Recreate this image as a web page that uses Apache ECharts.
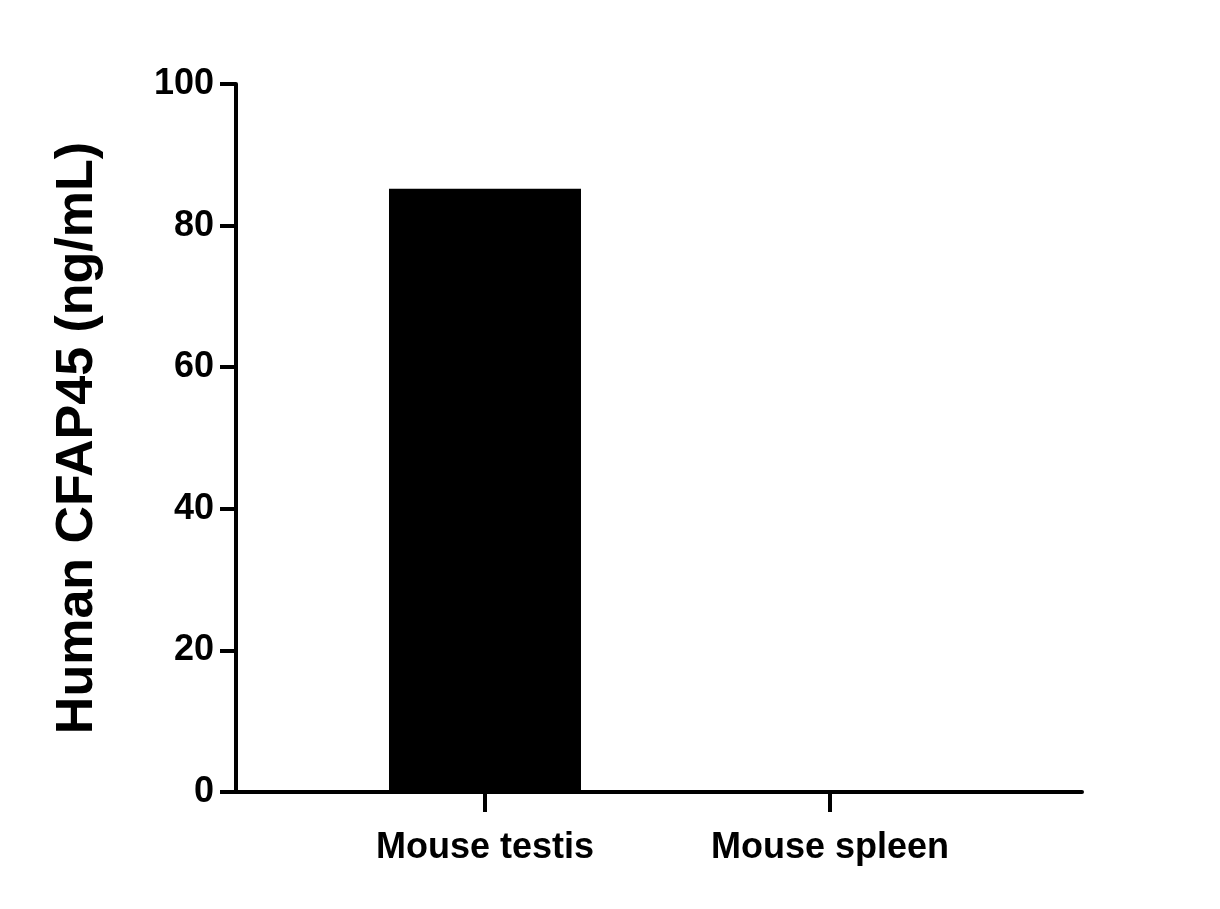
<!DOCTYPE html><html><head><meta charset="utf-8"><script src="https://cdn.jsdelivr.net/npm/echarts@6/dist/echarts.min.js"></script></head><body style="margin:0"><div id="c" style="width:1220px;height:909px"></div><script>
const categories=['Mouse testis','Mouse spleen'];
const values=[85.2,0];
const yTicks=[0,20,40,60,80,100];
const c=echarts.init(document.getElementById('c'));
const F="'Liberation Sans', Arial, sans-serif";
c.setOption({backgroundColor:'#fff',animation:false,
grid:{left:236,right:138,top:84,bottom:117},
xAxis:{type:'value',min:-0.7217,max:1.7304,splitLine:{show:false},
 axisLine:{onZero:false,lineStyle:{color:'#000',width:4}},
 axisTick:{customValues:[0,1],length:20,lineStyle:{color:'#000',width:4}},
 axisLabel:{customValues:[0,1],formatter:v=>categories[Math.round(v)],color:'#000',fontFamily:F,fontWeight:'bold',fontSize:36,margin:38}},
yAxis:{type:'value',min:0,max:100,interval:20,splitLine:{show:false},
 name:'Human CFAP45 (ng/mL)',nameLocation:'middle',nameGap:132,nameTextStyle:{color:'#000',fontFamily:F,fontWeight:'bold',fontSize:52},
 axisLine:{show:true,onZero:false,lineStyle:{color:'#000',width:4}},
 axisTick:{show:true,length:16,lineStyle:{color:'#000',width:4}},
 axisLabel:{color:'#000',fontFamily:F,fontWeight:'bold',fontSize:36,margin:22}},
series:[{type:'bar',barWidth:192,itemStyle:{color:'#000'},data:values.map((v,i)=>[i,v])}]});
</script></body></html>
